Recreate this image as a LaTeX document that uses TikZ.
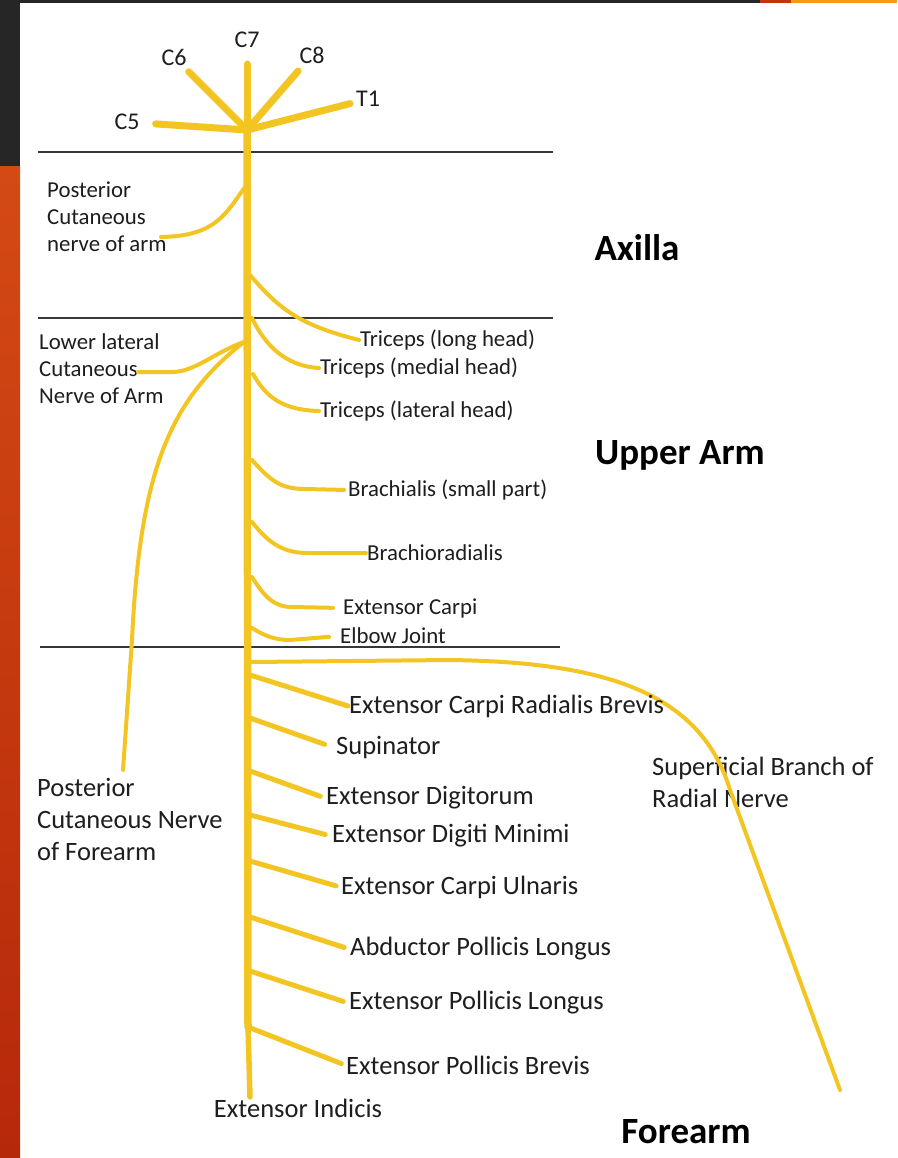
\documentclass[tikz,border=0pt]{standalone}
\usepackage{fontspec}
\setmainfont{Carlito}
\usetikzlibrary{positioning}
\definecolor{nerveyellow}{RGB}{243,197,35}
\definecolor{slidedark}{RGB}{38,38,38}
\definecolor{slidered}{RGB}{196,52,12}
\definecolor{slideorange}{RGB}{243,156,20}
\definecolor{striptop}{RGB}{212,74,20}
\definecolor{stripbottom}{RGB}{182,40,10}
\definecolor{labeltext}{RGB}{30,30,30}
\definecolor{rulegray}{RGB}{55,55,55}

\begin{document}
\begin{tikzpicture}[x=1pt,y=-1pt,
    trunk/.style={nerveyellow, line width=7.5pt, line cap=round},
    root/.style={nerveyellow, line width=7pt, line cap=round},
    twig/.style={nerveyellow, line width=4pt, line cap=round},
    limb/.style={nerveyellow, line width=5pt, line cap=round},
    levelrule/.style={rulegray, line width=1.4pt},
    rootlbl/.style={labeltext, inner sep=0pt, font=\fontsize{24}{27}\selectfont},
    armlbl/.style={labeltext, inner sep=1pt, font=\fontsize{22.8}{27}\selectfont},
    forelbl/.style={labeltext, inner sep=1pt, font=\fontsize{26.5}{32}\selectfont},
    regionlbl/.style={black, inner sep=0pt, font=\fontsize{37}{40}\selectfont\bfseries}]

			% slide frame
			\useasboundingbox (0,0) rectangle (897,1158);
			\fill[white] (0,0) rectangle (897,1158);
			\fill[slidedark] (0,0) rectangle (897,3);
			\fill[slidered] (760,0) rectangle (791,3);
			\fill[slideorange] (791,0) rectangle (897,3);
			\fill[slidedark] (0,0) rectangle (20,167);
			\shade[top color=striptop, bottom color=stripbottom] (0,167) rectangle (20,1158);

			% level rules
			\draw[levelrule] (38,152) -- (553,152);
			\draw[levelrule] (38,318) -- (553,318);
			\draw[levelrule] (40,647) -- (560,647);

			\node[regionlbl] at (637,248) (axilla){Axilla};
			\node[regionlbl] at (680,455) (upperarm){Upper Arm};
			\node[regionlbl] at (686,1132) (forearm){Forearm};

			% roots
			\coordinate (junction) at (247,130);
			\node[rootlbl] at (127,122) (c5){C5};
			\node[rootlbl] at (174,57) (c6){C6};
			\node[rootlbl] at (247,40) (c7){C7};
			\node[rootlbl] at (312,55) (c8){C8};
			\node[rootlbl] at (368,99) (t1){T1};
			\draw[root, shorten <=16pt] (c5) -- (junction);
			\draw[root, shorten <=9pt] (c6) -- (junction);
			\draw[root, shorten <=16pt] (c7) -- (junction);
			\draw[root, shorten <=10pt] (c8) -- (junction);
			\draw[root, shorten <=6pt] (t1) -- (junction);

			% junctions on the radial nerve
			\coordinate (jpca) at (245,187);
			\coordinate (jlong) at (250,275);
			\coordinate (jmed) at (252,318);
			\coordinate (jllc) at (244,342);
			\coordinate (jlat) at (253,374);
			\coordinate (jbrach) at (252,460);
			\coordinate (jbrr) at (252,522);
			\coordinate (jecarpi) at (252,577);
			\coordinate (jelbow) at (252,628);
			\coordinate (jsbr) at (252,662);
			\coordinate (jecrb) at (250,675);
			\coordinate (jsup) at (250,718);
			\coordinate (jed) at (250,771);
			\coordinate (jedm) at (250,815);
			\coordinate (jecu) at (250,861);
			\coordinate (japl) at (250,917);
			\coordinate (jepl) at (250,971);
			\coordinate (jepb) at (248,1027);
			\coordinate (trunkend) at (250,1097);

			\draw[trunk] (junction) -- (jepb);
			\draw[limb, line width=5.5pt] (jepb) -- (trunkend);

			% axilla
			\node[armlbl, anchor=north west, align=left] at (46,181) (pcarm){Posterior\\Cutaneous\\nerve of arm};
			\draw[twig] (jpca) .. controls (225,215) and (215,236) .. (161,237);

			% upper arm
			\node[armlbl, anchor=west] at (359,340) (tlong){Triceps (long head)};
			\node[armlbl, anchor=west] at (319,368) (tmed){Triceps (medial head)};
			\node[armlbl, anchor=west] at (319,411) (tlat){Triceps (lateral head)};
			\node[armlbl, anchor=west] at (347,490) (brach){Brachialis (small part)};
			\node[armlbl, anchor=west] at (366,553) (brr){Brachioradialis};
			\node[armlbl, anchor=west] at (342,608) (ecarpi){Extensor Carpi};
			\node[armlbl, anchor=west] at (339,636) (elbow){Elbow Joint};
			\node[armlbl, anchor=north west, align=left] at (38,332) (llc){Lower lateral\\Cutaneous\\Nerve of Arm};
			\draw[twig] (jlong) .. controls (280,310) and (300,325) .. (tlong.west);
			\draw[twig] (jmed) .. controls (265,345) and (285,366) .. (tmed.west);
			\draw[twig] (jlat) .. controls (265,395) and (280,410) .. (tlat.west);
			\draw[twig, shorten >=3pt] (jbrach) .. controls (270,480) and (280,489) .. (305,489) -- (brach.west);
			\draw[twig] (jbrr) .. controls (270,545) and (285,553) .. (308,553) -- (brr.west);
			\draw[twig, shorten >=9pt] (jecarpi) .. controls (265,598) and (275,607) .. (292,607) -- (ecarpi.west);
			\draw[twig, shorten >=10pt] (jelbow) .. controls (265,636) and (275,640) .. (290,640) -- (elbow.west);
			\draw[twig] (jllc) .. controls (215,352) and (195,372) .. (172,372) -- (138,372);

			% forearm
			\node[forelbl, anchor=north west, align=left] at (36,777) (pcfa){Posterior\\Cutaneous Nerve\\of Forearm};
			\draw[twig] (jllc) .. controls (170,400) and (140,470) .. (132,640) -- (123,770);

			\node[forelbl, anchor=north west, align=left] at (651,756) (sbrn){Superficial Branch of\\Radial Nerve};
			\draw[twig] (jsbr) -- (450,660) .. controls (600,662) and (700,690) .. (730,790) -- (840,1090);

			\node[forelbl, anchor=west] at (348,706) (ecrb){Extensor Carpi Radialis Brevis};
			\node[forelbl, anchor=west] at (335,748) (sup){Supinator};
			\node[forelbl, anchor=west] at (325,798) (ed){Extensor Digitorum};
			\node[forelbl, anchor=west] at (331,836) (edm){Extensor Digiti Minimi};
			\node[forelbl, anchor=west] at (340,887) (ecu){Extensor Carpi Ulnaris};
			\node[forelbl, anchor=west] at (349,949) (apl){Abductor Pollicis Longus};
			\node[forelbl, anchor=west] at (348,1003) (epl){Extensor Pollicis Longus};
			\node[forelbl, anchor=west] at (345,1065) (epb){Extensor Pollicis Brevis};
			\node[forelbl] at (298,1108) (ei){Extensor Indicis};
			\draw[limb] (jecrb) -- (ecrb.west);
			\draw[limb, shorten >=11pt] (jsup) -- (sup.west);
			\draw[limb, shorten >=5pt] (jed) -- (ed.west);
			\draw[limb, shorten >=6pt] (jedm) -- (edm.west);
			\draw[limb, shorten >=4pt] (jecu) -- (ecu.west);
			\draw[limb, shorten >=5pt] (japl) -- (apl.west);
			\draw[limb, shorten >=5pt] (jepl) -- (epl.west);
			\draw[limb, shorten >=4pt] (jepb) -- (epb.west);
			\end{tikzpicture}
\end{document}
